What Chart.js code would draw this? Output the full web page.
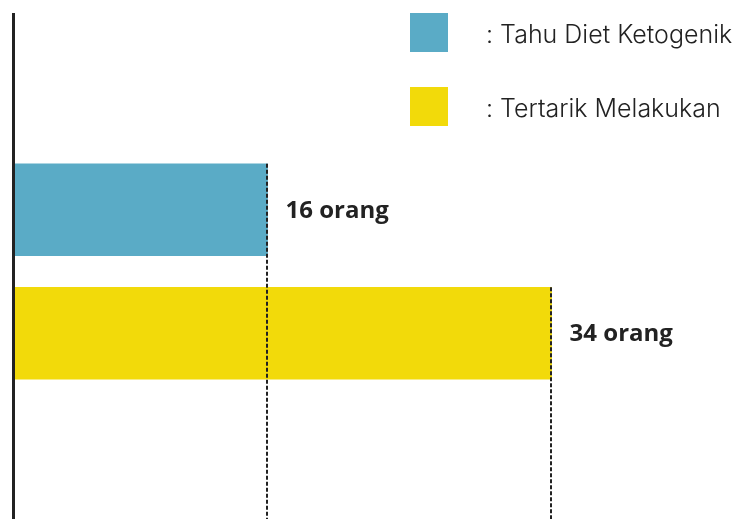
<!DOCTYPE html>
<html>
<head>
<meta charset="utf-8">
<script src="https://cdn.jsdelivr.net/npm/chart.js@4/dist/chart.umd.min.js"></script>
<style>
  html, body { margin: 0; padding: 0; background: #fff; }
  #chart { display: block; }
</style>
</head>
<body>
<canvas id="chart" width="744" height="519"></canvas>
<script>
// data
const categories = ['Tahu Diet Ketogenik', 'Tertarik Melakukan'];
const values = [16, 34];
const unit = 'orang';
const barColors = ['#5aabc6', '#f2da0a'];

const ink = '#222222';

// axis line, dashed guides, value labels and legend
const decorPlugin = {
    id: 'decor',
    afterDatasetsDraw(chart) {
        const ctx = chart.ctx;
        const area = chart.chartArea;
        const xs = chart.scales.x;
        const meta = chart.getDatasetMeta(0);

        ctx.save();
        // dashed guide from each bar end to the bottom
        ctx.strokeStyle = ink;
        ctx.lineWidth = 2;
        ctx.setLineDash([4, 2]);
        meta.data.forEach((bar, i) => {
            const x = Math.round(xs.getPixelForValue(values[i])) - 1;
            const top = bar.y - bar.height / 2;
            ctx.beginPath();
            ctx.moveTo(x, top);
            ctx.lineTo(x, chart.height);
            ctx.stroke();
        });
        ctx.setLineDash([]);

        // left axis line
        ctx.lineWidth = 3;
        ctx.beginPath();
        ctx.moveTo(area.left - 1.5, 13);
        ctx.lineTo(area.left - 1.5, chart.height);
        ctx.stroke();

        // value labels
        ctx.fillStyle = ink;
        ctx.font = 'bold 24px "Open Sans", sans-serif';
        ctx.textBaseline = 'middle';
        ctx.textAlign = 'left';
        meta.data.forEach((bar, i) => {
            ctx.fillText(values[i] + ' ' + unit, bar.x + 18, bar.y + 1);
        });

        // legend
        ctx.font = '300 25px Inter, sans-serif';
        categories.forEach((c, i) => {
            const y = 13 + i * 74;
            ctx.fillStyle = barColors[i];
            ctx.fillRect(410, y, 38, 39);
            ctx.fillStyle = ink;
            ctx.fillText(': ' + c, 486, y + 22);
        });
        ctx.restore();
    }
};

new Chart(document.getElementById('chart'), {
    type: 'bar',
    data: {
        labels: categories,
        datasets: [{
            data: values,
            backgroundColor: barColors,
            borderWidth: 0,
            barThickness: 92
        }]
    },
    options: {
        indexAxis: 'y',
        responsive: false,
        animation: false,
        layout: {
            padding: { left: 15, right: 3, top: 148, bottom: 124 }
        },
        plugins: {
            legend: { display: false },
            tooltip: { enabled: false }
        },
        scales: {
            x: { display: false, min: 0, max: 46 },
            y: { display: false }
        }
    },
    plugins: [decorPlugin]
});
</script>
</body>
</html>
